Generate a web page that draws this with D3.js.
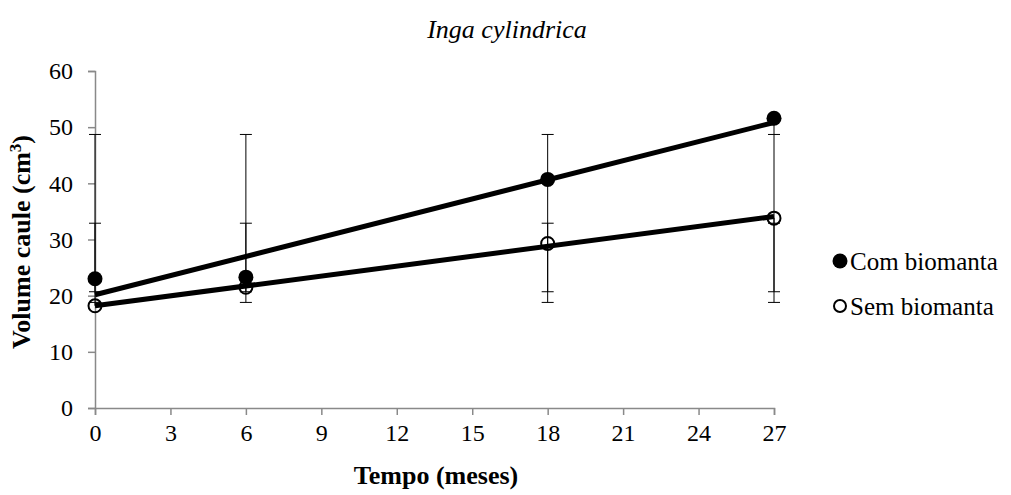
<!DOCTYPE html>
<html>
<head>
<meta charset="utf-8">
<script src="https://cdn.jsdelivr.net/npm/d3@7"></script>
<style>
  body { margin: 0; background: #fff; }
  text { font-family: "Liberation Serif", "Times New Roman", serif; }
</style>
</head>
<body>
<svg id="chart"></svg>
<script>
// Data
var months = [0, 6, 18, 27];
var comValues = [23.0, 23.3, 40.7, 51.6];
var semValues = [18.2, 21.5, 29.3, 33.8];
// error bar ends (as drawn in the figure)
var comErrHigh = [48.7, 48.7, 48.7, 48.7];
var comErrLow = [20.7, 20.7, 20.7, 20.7];
var semErrHigh = [32.9, 32.9, 32.9, 32.9];
var semErrLow = [18.8, 18.8, 18.8, 18.8];
var xTicks = [0, 3, 6, 9, 12, 15, 18, 21, 24, 27];
var yTicks = [0, 10, 20, 30, 40, 50, 60];

var width = 1011, height = 495;
var svg = d3.select("#chart").attr("width", width).attr("height", height);

var x = d3.scaleLinear().domain([0, 27]).range([95, 774]);
var y = d3.scaleLinear().domain([0, 60]).range([408, 71]);

// linear trend line
function fit(xs, ys) {
  var mx = d3.mean(xs), my = d3.mean(ys);
  var sxy = d3.sum(xs, function (d, i) { return (d - mx) * (ys[i] - my); });
  var sxx = d3.sum(xs, function (d) { return (d - mx) * (d - mx); });
  var b = sxy / sxx;
  return { a: my - b * mx, b: b };
}

// axes
var axisColor = "#898989";
var xAxis = svg.append("g")
  .attr("transform", "translate(0," + y(0) + ")")
  .call(d3.axisBottom(x).tickValues(xTicks).tickSize(7).tickPadding(6));
var yAxis = svg.append("g")
  .attr("transform", "translate(" + x(0) + ",0)")
  .call(d3.axisLeft(y).tickValues(yTicks).tickSize(7).tickPadding(15));
[xAxis, yAxis].forEach(function (g) {
  g.attr("font-family", null);
  g.select(".domain").attr("stroke", axisColor).attr("stroke-width", 1.5);
  g.selectAll(".tick line").attr("stroke", axisColor).attr("stroke-width", 1.5);
  g.selectAll(".tick text")
    .attr("fill", "#000")
    .style("font-family", "'Liberation Serif', serif")
    .style("font-size", "24px");
});
xAxis.selectAll(".tick text").attr("dy", "0.85em");

// error bars
function errorBars(hi, lo, values) {
  var g = svg.append("g").attr("stroke", "#000").attr("stroke-width", 1);
  months.forEach(function (m, i) {
    var top = Math.max(hi[i], values[i]);
    var bot = Math.min(lo[i], values[i]);
    g.append("line").attr("x1", x(m)).attr("x2", x(m))
      .attr("y1", y(top)).attr("y2", y(bot));
    [hi[i], lo[i]].forEach(function (v) {
      g.append("line").attr("x1", x(m) - 6).attr("x2", x(m) + 6)
        .attr("y1", y(v)).attr("y2", y(v));
    });
  });
}
errorBars(comErrHigh, comErrLow, comValues);
errorBars(semErrHigh, semErrLow, semValues);

// trend lines
[comValues, semValues].forEach(function (vals) {
  var f = fit(months, vals);
  svg.append("line")
    .attr("x1", x(0)).attr("y1", y(f.a))
    .attr("x2", x(27)).attr("y2", y(f.a + f.b * 27))
    .attr("stroke", "#000").attr("stroke-width", 5);
});

// markers
svg.append("g").selectAll("circle").data(comValues).enter().append("circle")
  .attr("cx", function (d, i) { return x(months[i]); })
  .attr("cy", function (d) { return y(d); })
  .attr("r", 7.5).attr("fill", "#000");
svg.append("g").selectAll("circle").data(semValues).enter().append("circle")
  .attr("cx", function (d, i) { return x(months[i]); })
  .attr("cy", function (d) { return y(d); })
  .attr("r", 6.5).attr("fill", "none").attr("stroke", "#000").attr("stroke-width", 2);

// title and axis labels
svg.append("text").attr("x", 507).attr("y", 38).attr("text-anchor", "middle")
  .style("font-size", "26px").style("font-style", "italic").text("Inga cylindrica");

svg.append("text").attr("x", 436).attr("y", 484).attr("text-anchor", "middle")
  .style("font-size", "26px").style("font-weight", "bold").text("Tempo (meses)");

var yl = svg.append("text")
  .attr("transform", "translate(30,242) rotate(-90)")
  .attr("text-anchor", "middle")
  .style("font-size", "26px").style("font-weight", "bold");
yl.append("tspan").text("Volume caule (cm");
yl.append("tspan").attr("dy", -9).style("font-size", "17px").text("3");
yl.append("tspan").attr("dy", 9).text(")");

// legend
var legend = svg.append("g");
legend.append("circle").attr("cx", 840).attr("cy", 261).attr("r", 7.5).attr("fill", "#000");
legend.append("text").attr("x", 850).attr("y", 270).style("font-size", "25px").text("Com biomanta");
legend.append("circle").attr("cx", 840).attr("cy", 306).attr("r", 6)
  .attr("fill", "#fff").attr("stroke", "#000").attr("stroke-width", 2);
legend.append("text").attr("x", 850).attr("y", 315).style("font-size", "25px").text("Sem biomanta");
</script>
</body>
</html>
